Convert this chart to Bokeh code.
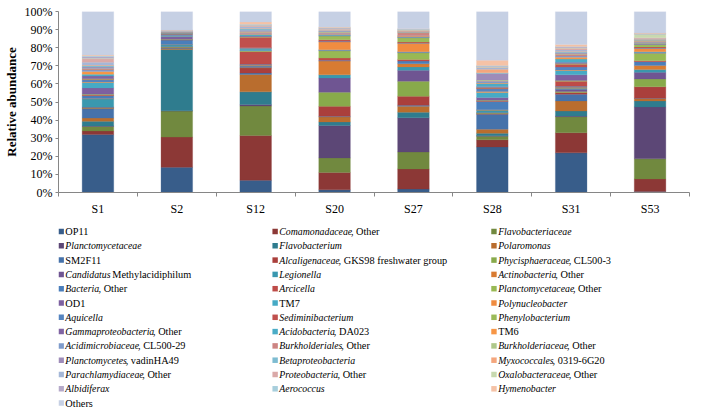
from bokeh.plotting import figure
from bokeh.models import ColumnDataSource, Range1d, FixedTicker, PrintfTickFormatter
from bokeh.layouts import column
from bokeh.embed import file_html
from bokeh.resources import INLINE
from bokeh.core.properties import value

samples = ["S1", "S2", "S12", "S20", "S27", "S28", "S31", "S53"]

# legend labels: italic part + roman part
taxa_italic = [
    "", "Comamonadaceae", "Flavobacteriaceae",
    "Planctomycetaceae", "Flavobacterium", "Polaromonas",
    "", "Alcaligenaceae", "Phycisphaeraceae",
    "Candidatus", "Legionella", "Actinobacteria",
    "Bacteria", "Arcicella", "Planctomycetaceae",
    "", "", "Polynucleobacter",
    "Aquicella", "Sediminibacterium", "Phenylobacterium",
    "Gammaproteobacteria", "Acidobacteria", "",
    "Acidimicrobiaceae", "Burkholderiales", "Burkholderiaceae",
    "Planctomycetes", "Betaproteobacteria", "Myxococcales",
    "Parachlamydiaceae", "Proteobacteria", "Oxalobacteraceae",
    "Albidiferax", "Aerococcus", "Hymenobacter",
    "",
]
taxa_roman = [
    "OP11", ", Other", "",
    "", "", "",
    "SM2F11", ", GKS98 freshwater group", ", CL500-3",
    " Methylacidiphilum", "", ", Other",
    ", Other", "", ", Other",
    "OD1", "TM7", "",
    "", "", "",
    ", Other", ", DA023", "TM6",
    ", CL500-29", ", Other", ", Other",
    ", vadinHA49", "", ", 0319-6G20",
    ", Other", ", Other", ", Other",
    "", "", "",
    "Others",
]

# relative abundance (%) per sample, in taxa order
s1 = [32, 2, 2.5, 0.3, 2.5, 1.8, 5.2, 0.3, 0.3, 0.3, 4.5, 0.3, 1.5, 0.3, 0.5, 3.5, 3, 0.3,
      1.2, 0.3, 0.3, 1.5, 1.0, 1.5, 0.8, 0.5, 0.3, 0.8, 0.8, 0.3, 1.5, 2.0, 0.3, 0.8, 0.5, 0.5, 24]
s2 = [13.9, 16.7, 14.4, 0.2, 33.8, 0.5, 0.3, 0.3, 0.3, 0.2, 1.0, 0.2, 2.4, 0.2, 0.2, 1.5, 0.3, 0.2,
      0.8, 0.2, 0.2, 0.2, 0.1, 0.1, 0.2, 0.1, 0.1, 0.2, 0.1, 0.1, 0.2, 0.1, 0.1, 0.2, 0.1, 0.1, 10.2]
s12 = [6.7, 24.8, 16.3, 0.8, 7.0, 9.6, 0.8, 2.8, 0.3, 0.6, 0.4, 0.3, 0.4, 7.0, 0.4, 0.3, 0.8, 0.3,
       0.4, 5.8, 0.3, 0.3, 0.8, 0.3, 0.3, 0.8, 0.3, 0.8, 0.8, 0.3, 0.8, 0.5, 0.3, 0.3, 0.3, 1.2, 5.8]
s20 = [1.5, 9.6, 8.0, 17.9, 2.0, 2.8, 0.3, 5.5, 7.8, 7.9, 1.7, 7.6, 0.4, 1.3, 4.0, 0.3, 0.3, 4.3,
       0.3, 0.9, 2.0, 0.4, 0.4, 0.3, 0.3, 0.6, 0.3, 0.4, 0.3, 0.3, 0.3, 0.3, 0.3, 0.3, 0.2, 0.3, 8.6]
s27 = [1.9, 11.1, 9.4, 18.9, 3.1, 3.3, 0.5, 5.0, 8.3, 6.1, 1.8, 1.7, 1.5, 0.9, 3.7, 0.3, 0.3, 4.6,
       0.2, 0.5, 2.4, 0.3, 0.3, 0.3, 0.2, 1.6, 0.4, 0.2, 0.2, 0.2, 0.2, 0.3, 0.2, 0.2, 0.2, 0.2, 9.5]
s28 = [25.2, 3.9, 2.0, 0.3, 1.3, 2.3, 8.3, 0.3, 0.3, 0.3, 1.2, 0.3, 4.6, 0.3, 0.3, 1.6, 2.8, 0.5,
       1.5, 0.4, 0.3, 0.6, 1.6, 0.3, 1.0, 0.3, 0.3, 3.7, 0.3, 2.0, 0.8, 0.3, 0.3, 0.3, 0.3, 2.9, 27.0]
s31 = [21.9, 11.1, 8.9, 0.3, 2.8, 5.6, 3.7, 0.9, 0.6, 1.2, 0.6, 0.5, 0.6, 2.8, 0.4, 3.1, 2.4, 0.3,
       1.6, 1.6, 0.4, 0.6, 1.8, 1.0, 0.7, 1.0, 0.3, 0.5, 0.5, 0.4, 0.6, 1.0, 0.3, 0.4, 0.3, 1.0, 18.3]
s53 = [0.6, 6.9, 11.1, 28.7, 3.3, 1.3, 0.2, 6.3, 4.3, 3.7, 1.5, 2.2, 2.2, 0.5, 4.2, 0.4, 0.4, 1.8,
       0.3, 0.5, 1.3, 0.4, 0.4, 0.4, 0.2, 0.5, 0.5, 0.3, 0.3, 0.2, 0.2, 0.4, 2.0, 0.2, 0.2, 0.2, 11.9]
sample_values = [s1, s2, s12, s20, s27, s28, s31, s53]

colors = [
    "#385D8A", "#8C3836", "#71893F", "#5C4776", "#2F7C8E", "#B96D2E",
    "#4672AA", "#AA3F3C", "#88AA4B", "#6F5592", "#3A98AF", "#D87B32",
    "#4A7EBB", "#BE4B48", "#98B954", "#7D60A0", "#46AAC5", "#F08C40",
    "#5584C0", "#C0504D", "#9BBB59", "#8064A2", "#4BACC6", "#F79646",
    "#7E9BCB", "#CD8482", "#AEC88A", "#9E8CB9", "#7EBCD1", "#F4A67D",
    "#A4B7D8", "#DAA9A8", "#C7D9AF", "#B5A9C9", "#A7CEDC", "#F5C2A6",
    "#C6D0E4",
]

FONT = "Liberation Serif"
W = 690
BL, BR = 46, 1
n_t = len(taxa_roman)
keys = [f"t{j}" for j in range(n_t)]
data = {"x": [i + 0.5 for i in range(len(samples))]}
for j, k in enumerate(keys):
    data[k] = [vals[j] for vals in sample_values]
src = ColumnDataSource(data)

p = figure(width=W, height=220, output_backend="svg", toolbar_location=None,
           x_range=Range1d(0, len(samples)), y_range=Range1d(0, 100),
           min_border_left=BL, min_border_right=BR, min_border_top=11, min_border_bottom=28)
p.vbar_stack(keys, x="x", width=0.4, source=src, fill_color=colors, line_color=colors, line_width=0.3)

p.outline_line_color = None
p.grid.visible = False
p.background_fill_color = "white"

xa = p.xaxis[0]
xa.ticker = FixedTicker(ticks=[i + 0.5 for i in range(len(samples))],
                        minor_ticks=list(range(len(samples) + 1)))
xa.major_label_overrides = {i + 0.5: s for i, s in enumerate(samples)}
xa.major_tick_line_color = None
xa.minor_tick_line_color = "#868686"
xa.minor_tick_out = 4
xa.minor_tick_in = 0
xa.axis_line_color = "#868686"
xa.major_label_text_font = FONT
xa.major_label_text_font_size = "12px"
xa.major_label_text_color = "black"
xa.major_label_standoff = 3

ya = p.yaxis[0]
ya.ticker = FixedTicker(ticks=list(range(0, 101, 10)))
ya.formatter = PrintfTickFormatter(format="%d%%")
ya.axis_line_color = "#868686"
ya.major_tick_line_color = "#868686"
ya.major_tick_out = 3
ya.major_tick_in = 0
ya.minor_tick_line_color = None
ya.major_label_text_font = FONT
ya.major_label_text_font_size = "12px"
ya.major_label_text_color = "black"
ya.major_label_standoff = 3
ya.axis_label = "Relative abundance"
ya.axis_label_text_font = FONT
ya.axis_label_text_font_size = "13px"
ya.axis_label_text_font_style = "bold"
ya.axis_label_text_color = "black"
ya.axis_label_standoff = 3

# ---- legend panel (data units == pixels of the panel) ----
TI = {  # Times-Italic advance widths (per 1000 em)
    'A': 611, 'B': 611, 'C': 667, 'D': 722, 'E': 611, 'F': 611, 'G': 722, 'H': 722, 'I': 333,
    'J': 444, 'K': 667, 'L': 556, 'M': 833, 'N': 667, 'O': 722, 'P': 611, 'Q': 722, 'R': 611,
    'S': 500, 'T': 556, 'U': 722, 'V': 611, 'W': 833, 'X': 611, 'Y': 556, 'Z': 556,
    'a': 500, 'b': 500, 'c': 444, 'd': 500, 'e': 444, 'f': 278, 'g': 500, 'h': 500, 'i': 278,
    'j': 278, 'k': 444, 'l': 278, 'm': 722, 'n': 500, 'o': 500, 'p': 500, 'q': 500, 'r': 389,
    's': 389, 't': 278, 'u': 500, 'v': 444, 'w': 667, 'x': 444, 'y': 444, 'z': 389,
}
IFS = 9.8   # italic size
RFS = 10.3  # roman size
LH = 190
col_left = [46, 264, 487]
row_y0, row_dy = 11, 14.3

sq_x, sq_y, it_x, rm_x, ty, rm_txt = [], [], [], [], [], []
for j in range(n_t):
    r, c = divmod(j, 3)
    y = row_y0 + r * row_dy
    x0 = col_left[c]
    sq_x.append(x0 + 2.75)
    sq_y.append(y)
    it_x.append(x0 + 7)
    w = sum(TI.get(ch, 500) for ch in taxa_italic[j]) / 1000 * IFS
    rt = taxa_roman[j]
    if rt.startswith(" "):
        w += 0.25 * RFS
        rt = rt.lstrip(" ")
    rm_x.append(x0 + 7 + w)
    rm_txt.append(rt)
    ty.append(y)

lsrc = ColumnDataSource(dict(sq_x=sq_x, sq_y=sq_y, it_x=it_x, rm_x=rm_x, ty=ty,
                             it=taxa_italic, rm=rm_txt, col=colors))

leg = figure(width=W, height=LH, output_backend="svg", toolbar_location=None,
             x_range=Range1d(BL, W - BR), y_range=Range1d(LH, 0),
             min_border_left=BL, min_border_right=BR,
             min_border_top=0, min_border_bottom=0)
leg.axis.visible = False
leg.grid.visible = False
leg.outline_line_color = None
leg.rect(x="sq_x", y="sq_y", width=5.5, height=5.5, source=lsrc, fill_color="col", line_color=None)
leg.text(x="it_x", y="ty", text="it", source=lsrc, text_font=value(FONT), text_font_style="italic",
         text_font_size=f"{IFS}px", text_baseline="middle", text_align="left", text_color="black")
leg.text(x="rm_x", y="ty", text="rm", source=lsrc, text_font=value(FONT), text_font_style="normal",
         text_font_size=f"{RFS}px", text_baseline="middle", text_align="left", text_color="black")

layout = column(p, leg, spacing=0)
open("out.html", "w").write(file_html(layout, INLINE))
